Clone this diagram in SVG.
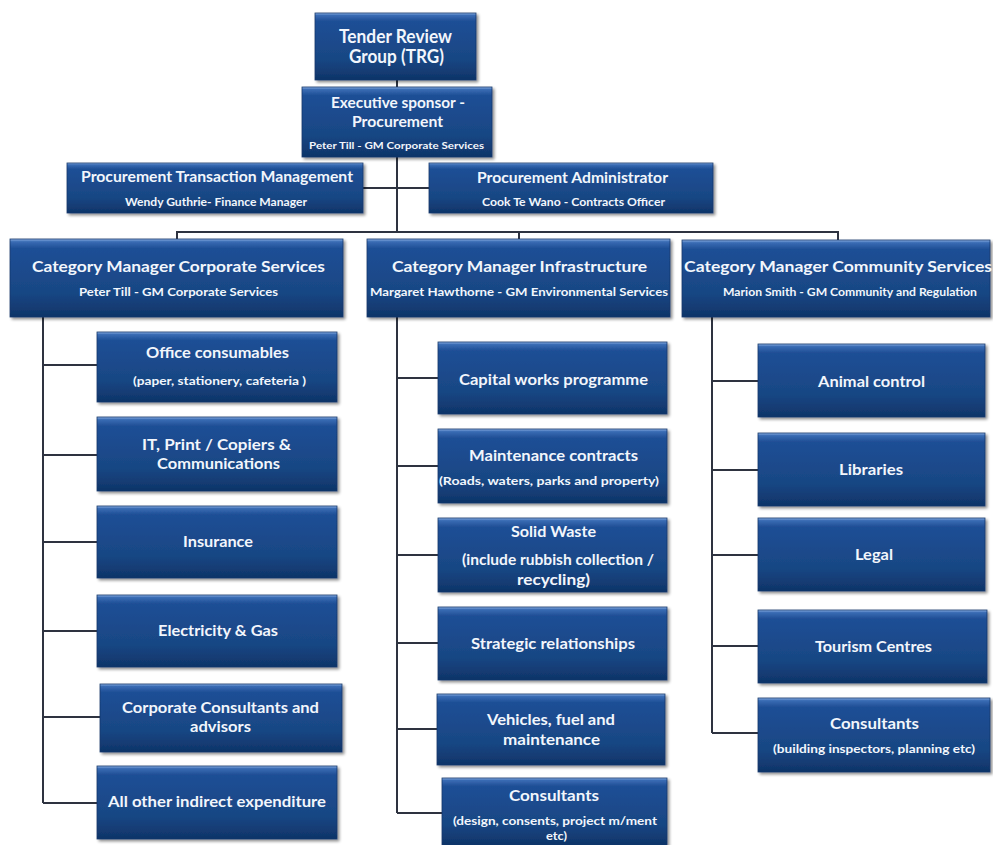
<svg xmlns="http://www.w3.org/2000/svg" width="993" height="845" viewBox="0 0 993 845">
  <defs>
    <linearGradient id="boxFill" x1="0" y1="0" x2="0" y2="1">
      <stop offset="0" stop-color="#8fb3e6"/>
      <stop offset="0.035" stop-color="#3a6cb4"/>
      <stop offset="0.12" stop-color="#1f4f96"/>
      <stop offset="0.7" stop-color="#184683"/>
      <stop offset="1" stop-color="#0f3468"/>
    </linearGradient>
    <filter id="shadow" x="-5%" y="-5%" width="115%" height="125%">
      <feGaussianBlur in="SourceAlpha" stdDeviation="1.5"/>
      <feOffset dx="2" dy="2" result="b"/>
      <feComponentTransfer><feFuncA type="linear" slope="0.45"/></feComponentTransfer>
      <feMerge><feMergeNode/><feMergeNode in="SourceGraphic"/></feMerge>
    </filter>
  </defs>
  <style>
    .box { fill: url(#boxFill); stroke: #16386b; stroke-width: 0.8; filter: url(#shadow); }
    text { font-family: Lato, "Open Sans", "Liberation Sans", sans-serif; font-weight: bold; fill: #f2f6fc; text-anchor: middle; }
    .h { font-size: 18px; }
    .t { font-size: 15px; }
    .c { font-size: 16px; }
    .s { font-size: 10.5px; }
    .wire { fill: none; stroke: #2e3340; stroke-width: 2; }
  </style>
  <rect width="993" height="845" fill="#ffffff"/>

  <g id="connectors" class="wire">
    <path d="M397 80 V87"/>
    <path d="M397 157 V232"/>
    <path d="M363 188 H429"/>
    <path d="M177 239 V232 H838 V240"/>
    <path d="M519 232 V239"/>
    <path d="M43 317 V803"/>
    <path d="M43 365 H97 M43 455 H97 M43 542 H97 M43 631 H97 M43 717 H100 M43 803 H97"/>
    <path d="M397 317 V813"/>
    <path d="M397 378 H438 M397 466 H438 M397 555 H438 M397 643 H438 M397 729 H437 M397 813 H442"/>
    <path d="M712 317 V733"/>
    <path d="M712 381 H758 M712 470 H758 M712 555 H758 M712 646 H758 M712 733 H758"/>
  </g>

  <g id="trg">
    <rect class="box" x="315" y="13" width="161" height="67"/>
    <text class="h" x="395.5" y="43" textLength="113" lengthAdjust="spacingAndGlyphs">Tender Review</text>
    <text class="h" x="396.5" y="63" textLength="95" lengthAdjust="spacingAndGlyphs">Group (TRG)</text>
  </g>
  <g id="exec-sponsor">
    <rect class="box" x="302" y="87" width="190" height="70"/>
    <text class="t" x="398" y="108" textLength="134" lengthAdjust="spacingAndGlyphs">Executive sponsor -</text>
    <text class="t" x="397.5" y="127" textLength="91" lengthAdjust="spacingAndGlyphs">Procurement</text>
    <text class="s" x="396.5" y="149" textLength="175" lengthAdjust="spacingAndGlyphs" style="font-size:9.5px">Peter Till  - GM Corporate Services</text>
  </g>
  <g id="transaction-mgmt">
    <rect class="box" x="67" y="163" width="296" height="50"/>
    <text class="t" x="217" y="182" textLength="272" lengthAdjust="spacingAndGlyphs">Procurement  Transaction Management</text>
    <text class="s" x="216" y="206" textLength="182" lengthAdjust="spacingAndGlyphs">Wendy Guthrie- Finance Manager</text>
  </g>
  <g id="administrator">
    <rect class="box" x="429" y="163" width="284" height="50"/>
    <text class="t" x="572.5" y="183" textLength="191" lengthAdjust="spacingAndGlyphs">Procurement Administrator</text>
    <text class="s" x="573.5" y="206" textLength="183" lengthAdjust="spacingAndGlyphs">Cook Te Wano  - Contracts Officer</text>
  </g>

  <g id="cat-corporate">
    <rect class="box" x="10" y="239" width="333" height="78"/>
    <text class="c" x="178.5" y="272" textLength="293" lengthAdjust="spacingAndGlyphs">Category Manager  Corporate Services</text>
    <text class="s" x="178.5" y="296" textLength="199" lengthAdjust="spacingAndGlyphs">Peter Till - GM Corporate Services</text>
  </g>
  <g id="cat-infrastructure">
    <rect class="box" x="367" y="239" width="303" height="78"/>
    <text class="c" x="519.5" y="272" textLength="255" lengthAdjust="spacingAndGlyphs">Category Manager  Infrastructure</text>
    <text class="s" x="519" y="296" textLength="298" lengthAdjust="spacingAndGlyphs">Margaret Hawthorne - GM Environmental Services</text>
  </g>
  <g id="cat-community">
    <rect class="box" x="682" y="240" width="308" height="77"/>
    <text class="c" x="838" y="272" textLength="308" lengthAdjust="spacingAndGlyphs">Category Manager  Community  Services</text>
    <text class="s" x="850" y="296" textLength="254" lengthAdjust="spacingAndGlyphs">Marion Smith - GM Community and Regulation</text>
  </g>

  <g id="office-consumables">
    <rect class="box" x="97" y="332" width="240" height="70"/>
    <text class="t" x="217.5" y="358" textLength="143" lengthAdjust="spacingAndGlyphs">Office consumables</text>
    <text class="s" x="219.5" y="385" textLength="173" lengthAdjust="spacingAndGlyphs">(paper, stationery, cafeteria )</text>
  </g>
  <g id="it-print">
    <rect class="box" x="97" y="417" width="240" height="74"/>
    <text class="t" x="216.5" y="450" textLength="149" lengthAdjust="spacingAndGlyphs">IT,  Print / Copiers &amp;</text>
    <text class="t" x="218.5" y="469" textLength="123" lengthAdjust="spacingAndGlyphs">Communications</text>
  </g>
  <g id="insurance">
    <rect class="box" x="97" y="506" width="240" height="72"/>
    <text class="t" x="218" y="547" textLength="70" lengthAdjust="spacingAndGlyphs">Insurance</text>
  </g>
  <g id="electricity-gas">
    <rect class="box" x="97" y="595" width="240" height="72"/>
    <text class="t" x="218" y="636" textLength="120" lengthAdjust="spacingAndGlyphs">Electricity &amp; Gas</text>
  </g>
  <g id="corporate-consultants">
    <rect class="box" x="100" y="684" width="242" height="68"/>
    <text class="t" x="220.5" y="713" textLength="197" lengthAdjust="spacingAndGlyphs">Corporate Consultants and</text>
    <text class="t" x="220.5" y="732" textLength="61" lengthAdjust="spacingAndGlyphs">advisors</text>
  </g>
  <g id="indirect-expenditure">
    <rect class="box" x="97" y="766" width="240" height="73"/>
    <text class="t" x="217" y="807" textLength="218" lengthAdjust="spacingAndGlyphs">All other indirect expenditure</text>
  </g>

  <g id="capital-works">
    <rect class="box" x="438" y="342" width="229" height="72"/>
    <text class="t" x="553.5" y="385" textLength="189" lengthAdjust="spacingAndGlyphs">Capital works programme</text>
  </g>
  <g id="maintenance-contracts">
    <rect class="box" x="438" y="429" width="229" height="74"/>
    <text class="t" x="553.5" y="461" textLength="169" lengthAdjust="spacingAndGlyphs">Maintenance contracts</text>
    <text class="s" x="549" y="485" textLength="220" lengthAdjust="spacingAndGlyphs">(Roads, waters, parks and property)</text>
  </g>
  <g id="solid-waste">
    <rect class="box" x="438" y="518" width="229" height="74"/>
    <text class="t" x="553.5" y="537" textLength="85" lengthAdjust="spacingAndGlyphs">Solid Waste</text>
    <text class="t" x="558" y="565" textLength="192" lengthAdjust="spacingAndGlyphs">(include rubbish collection /</text>
    <text class="t" x="553.5" y="585" textLength="73" lengthAdjust="spacingAndGlyphs">recycling)</text>
  </g>
  <g id="strategic-relationships">
    <rect class="box" x="438" y="607" width="229" height="73"/>
    <text class="t" x="553" y="649" textLength="164" lengthAdjust="spacingAndGlyphs">Strategic relationships</text>
  </g>
  <g id="vehicles">
    <rect class="box" x="437" y="694" width="228" height="71"/>
    <text class="t" x="551" y="725" textLength="128" lengthAdjust="spacingAndGlyphs">Vehicles, fuel and</text>
    <text class="t" x="551.5" y="745" textLength="97" lengthAdjust="spacingAndGlyphs">maintenance</text>
  </g>
  <g id="infra-consultants">
    <rect class="box" x="442" y="778" width="225" height="67"/>
    <text class="t" x="554" y="801" textLength="90" lengthAdjust="spacingAndGlyphs">Consultants</text>
    <text class="s" x="555" y="825" textLength="204" lengthAdjust="spacingAndGlyphs">(design, consents, project m/ment</text>
    <text class="s" x="556.5" y="840" textLength="21" lengthAdjust="spacingAndGlyphs">etc)</text>
  </g>

  <g id="animal-control">
    <rect class="box" x="758" y="344" width="227" height="73"/>
    <text class="t" x="871.5" y="387" textLength="107" lengthAdjust="spacingAndGlyphs">Animal control</text>
  </g>
  <g id="libraries">
    <rect class="box" x="758" y="433" width="227" height="73"/>
    <text class="t" x="871" y="475" textLength="64" lengthAdjust="spacingAndGlyphs">Libraries</text>
  </g>
  <g id="legal">
    <rect class="box" x="758" y="518" width="227" height="73"/>
    <text class="t" x="874" y="560" textLength="38" lengthAdjust="spacingAndGlyphs">Legal</text>
  </g>
  <g id="tourism-centres">
    <rect class="box" x="758" y="610" width="229" height="73"/>
    <text class="t" x="873.5" y="652" textLength="117" lengthAdjust="spacingAndGlyphs">Tourism Centres</text>
  </g>
  <g id="community-consultants">
    <rect class="box" x="758" y="698" width="232" height="74"/>
    <text class="t" x="874.5" y="729" textLength="89" lengthAdjust="spacingAndGlyphs">Consultants</text>
    <text class="s" x="874" y="753" textLength="202" lengthAdjust="spacingAndGlyphs">(building inspectors, planning etc)</text>
  </g>
</svg>
